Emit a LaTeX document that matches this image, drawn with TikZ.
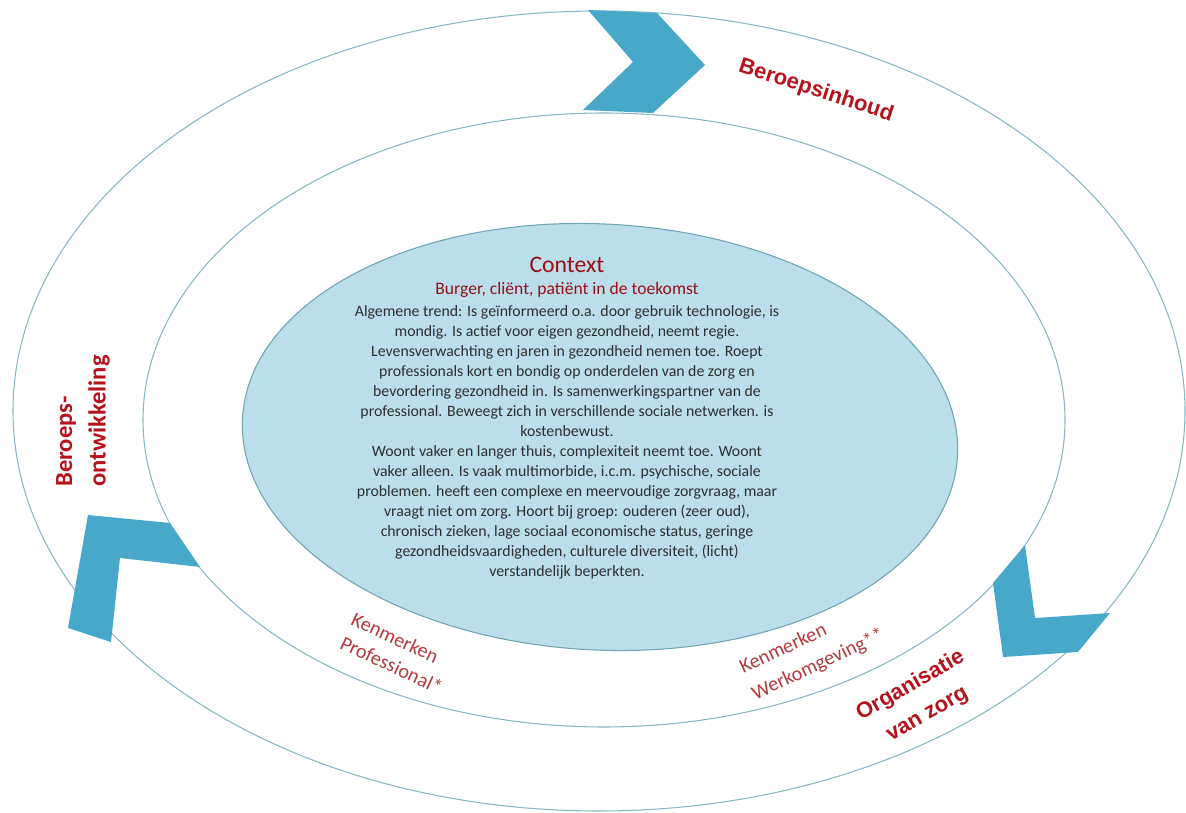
\documentclass[tikz,border=0pt]{standalone}
\usepackage{fontspec}
\setmainfont{Carlito}
\newfontfamily\labelfont{Liberation Sans}
\definecolor{ringline}{HTML}{86B6C4}
\definecolor{kernfill}{HTML}{BADFEA}
\definecolor{kernline}{HTML}{6FA3B5}
\definecolor{pijl}{HTML}{47A8CA}
\definecolor{rood}{HTML}{B5121B}
\definecolor{zachtrood}{HTML}{B23A3F}
\definecolor{tekst}{HTML}{2E2E2E}

\begin{document}
\begin{tikzpicture}[x=0.02cm, y=-0.02cm,
    ring/.style={draw=ringline, line width=0.6pt},
    chevron/.style={fill=pijl, draw=none},
    ringlabel/.style={text=rood, font=\labelfont\bfseries\fontsize{12.5}{19}\selectfont, align=center},
    kenmerk/.style={text=zachtrood, font=\fontsize{11.5}{15}\selectfont, align=left},
    ]
    \useasboundingbox (0,0) rectangle (1186,813);
    \draw[ring] (599,411) ellipse [x radius=586, y radius=400];
    \draw[ring] (604,420) ellipse [x radius=461, y radius=307];
    \draw[draw=kernline, fill=kernfill, line width=0.6pt, shift={(600,437)}, rotate=-3]
        (0,0) ellipse [x radius=358, y radius=213];
    \fill[chevron] (588,10)--(657,13)--(705,65)--(653,113)--(583,110)--(633,62)--cycle;
    \fill[chevron] (88,515)--(170,523)--(200,567)--(120,558)--(111,642)--(68,628)--cycle;
    \fill[chevron] (1025,545)--(1035,618)--(1110,613)--(1078,652)--(1003,657)--(993,583)--cycle;
    \node[text=rood!85!black, font=\fontsize{13.5}{16}\selectfont] (context) at (567,265) {Context};
    \node[text=rood!85!black, font=\fontsize{10}{12}\selectfont] (burger) at (567,290) {Burger, cliënt, patiënt in de toekomst};
    \node[text=tekst, align=center, font=\fontsize{9}{11.38}\selectfont] (trend) at (567,442) {%
        Algemene trend: Is geïnformeerd o.a. door gebruik technologie, is\\
        mondig. Is actief voor eigen gezondheid, neemt regie.\\
        Levensverwachting en jaren in gezondheid nemen toe. Roept\\
        professionals kort en bondig op onderdelen van de zorg en\\
        bevordering gezondheid in. Is samenwerkingspartner van de\\
        professional. Beweegt zich in verschillende sociale netwerken. is\\
        kostenbewust.\\
        Woont vaker en langer thuis, complexiteit neemt toe. Woont\\
        vaker alleen. Is vaak multimorbide, i.c.m. psychische, sociale\\
        problemen. heeft een complexe en meervoudige zorgvraag, maar\\
        vraagt niet om zorg. Hoort bij groep: ouderen (zeer oud),\\
        chronisch zieken, lage sociaal economische status, geringe\\
        gezondheidsvaardigheden, culturele diversiteit, (licht)\\
        verstandelijk beperkten.};
    \node[ringlabel, rotate=-18] (inhoud) at (816,91) {Beroepsinhoud};
    \node[ringlabel, rotate=30] (organisatie) at (919,700) {Organisatie\\van zorg};
    \node[text=rood, align=left, rotate=90, font=\bfseries\fontsize{14}{19}\selectfont] (ontwikkeling) at (83,421) {Beroeps-\\ontwikkeling};
    \node[kenmerk, rotate=-25] (professional) at (397,653) {Kenmerken\\Professional*};
    \node[kenmerk, rotate=25, font=\fontsize{11.5}{16.5}\selectfont] (werkomgeving) at (812,652) {Kenmerken\\Werkomgeving**};
\end{tikzpicture}
\end{document}
